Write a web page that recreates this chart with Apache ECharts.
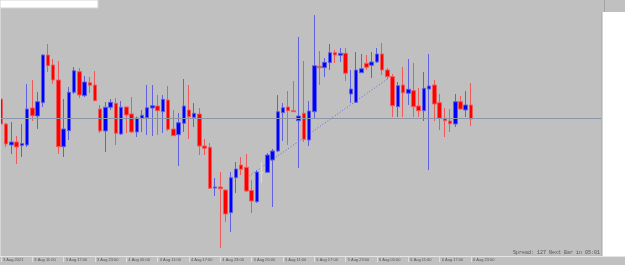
<!DOCTYPE html>
<html>
<head>
<meta charset="utf-8">
<title>3-6 Aug 2021 H1</title>
<script src="https://cdn.jsdelivr.net/npm/echarts@6/dist/echarts.min.js"></script>
<style>
  html, body { margin: 0; padding: 0; background: #c0c0c0; }
  #chart { width: 625px; height: 265px; }
</style>
</head>
<body>
<div id="chart"></div>
<script>
  // hourly bars, 3 Aug 05:00 .. 6 Aug 23:00
  const tickLabels = ['3 Aug 2021', '3 Aug 11:00', '3 Aug 17:00', '3 Aug 23:00',
    '4 Aug 05:00', '4 Aug 11:00', '4 Aug 17:00', '4 Aug 23:00',
    '5 Aug 05:00', '5 Aug 11:00', '5 Aug 17:00', '5 Aug 23:00',
    '6 Aug 05:00', '6 Aug 11:00', '6 Aug 17:00', '6 Aug 23:00']

  const open = [157, 132, 111, 114, 110.5, 111, 148, 140, 153.3, 201,
    191, 176, 109.3, 125.3, 163.7, 184.3, 160.3, 173.3, 171, 147,
    125, 148.7, 152.7, 122, 149, 142, 124, 137.7, 138.3, 148,
    150, 144.3, 156, 127, 121.3, 132.7, 146, 138.7, 142, 110,
    108.7, 68, 69, 66, 43.3, 78.3, 91, 88.7, 65.5, 54.3,
    83.3, 83.7, 96, 105, 143.3, 149, 145.3, 135.3, 142.7, 116,
    144.3, 189.7, 188.3, 193.3, 203.3, 200.7, 202.7, 162, 153.7, 183.3,
    192.7, 190.7, 194, 202, 186, 179.3, 149.3, 171, 162.7, 165.3,
    150, 145.3, 167, 171, 153.3, 137.7, 135, 132, 154.3, 146, 151]

  const close = [132, 112, 114, 109, 112.5, 147, 140.3, 154.3, 201, 190.3,
    176, 109.3, 127, 163.7, 185.3, 161, 174, 170.7, 155.3, 125,
    148.7, 153.7, 122.7, 148.7, 141, 124, 138, 140.7, 148.3, 150.3,
    145.3, 156.7, 126.7, 120.3, 133.3, 150, 139.3, 142.7, 110, 107.7,
    67.7, 69, 67.3, 42, 78.3, 87, 86.7, 65, 55, 84,
    83.3, 101, 105, 144.3, 148.3, 145.3, 144.3, 140, 116.7, 145,
    190.3, 188.3, 193.7, 203.3, 201, 202.7, 182.7, 167, 186, 187.3,
    188.7, 194, 202, 186, 179.3, 150.3, 170.3, 163.3, 166.7, 149.3,
    145.3, 167.7, 170, 152, 137.7, 135.3, 132.3, 154.3, 147, 151, 137]

  const low = [129, 109, 102, 92, 99, 109, 135, 127, 149, 184,
    172, 102, 99, 116, 162, 158, 159, 163, 155, 123,
    104, 146, 111, 121, 123, 123, 119, 124, 121, 120,
    121, 123, 125, 120, 90, 124, 117, 129, 101, 101,
    67.5, 60, 8, 34, 24, 63, 81, 64, 43, 53,
    73, 83, 49, 104, 115, 111, 144, 88, 114, 110,
    138, 171, 179, 186, 193, 194, 175, 153, 153, 183,
    186, 178, 193, 181, 177, 139, 139, 139, 151, 139,
    139, 135, 86, 135, 126, 119, 124, 129, 146, 139, 130]

  const high = [160, 133, 134, 120, 132, 172, 176, 164, 202, 212,
    197, 195, 157, 169, 189, 188, 180, 179, 185, 151,
    154, 157, 158, 155, 149.3, 159, 139.3, 146, 171, 171,
    161, 161, 170, 146, 143, 177, 171, 153, 148, 117,
    113, 78, 84, 66, 84, 94, 99, 102, 76, 86,
    94, 103, 107, 161, 153, 165, 175, 219, 195, 155,
    241, 205, 198, 212, 206, 208, 208, 186, 204, 202,
    201, 204, 208, 213, 188, 182, 174, 189, 197, 193,
    168, 184, 202, 176, 162, 148, 147, 162, 160, 165, 173]

  const levelLine = 137.7
  const trendLine = [[47, 78], [74, 177]]
  const slotCount = 116 // bars plus empty chart shift on the right

  let categories = []
  for (let i = 0; i < slotCount; i++) {
    categories.push(i % 6 === 0 && tickLabels[i / 6] ? tickLabels[i / 6] : '')
  }

  let candles = open.map((o, i) => {
    let item = { value: [o, close[i], low[i], high[i]] }
    if (i === 50) {
      item.itemStyle = { color: '#dcdcc8', color0: '#dcdcc8', borderColor: '#dcdcc8', borderColor0: '#dcdcc8' }
    }
    return item
  })

  let chart = echarts.init(document.getElementById('chart'), null, { renderer: 'canvas' })
  chart.setOption({
    animation: false,
    backgroundColor: '#c0c0c0',
    grid: { left: 1, right: 23.5, top: 0, bottom: 9 },
    xAxis: {
      type: 'category',
      data: categories,
      boundaryGap: false,
      axisLine: { show: false },
      axisTick: {
        show: true,
        length: 6,
        interval: (i) => categories[i] !== '',
        lineStyle: { color: '#dedede', width: 1 }
      },
      axisLabel: {
        interval: 0,
        margin: 2,
        align: 'left',
        verticalAlign: 'top',
        padding: [0, 0, 0, 2],
        fontSize: 4,
        fontFamily: 'Liberation Sans',
        color: '#555'
      },
      splitLine: { show: false }
    },
    yAxis: {
      type: 'value',
      min: 0,
      max: 256,
      show: false,
      splitLine: { show: false }
    },
    series: [
      {
        type: 'line',
        data: trendLine,
        symbol: 'none',
        silent: true,
        z: 1,
        lineStyle: { color: '#6a6ad6', width: 1, type: [1, 2] }
      },
      {
        type: 'candlestick',
        data: candles,
        barWidth: 4,
        z: 2,
        itemStyle: {
          color: '#0000ff',
          color0: '#ff0000',
          borderColor: '#6060e0',
          borderColor0: '#f05a5a',
          borderColorDoji: '#6060e0',
          borderWidth: 1
        },
        markLine: {
          silent: true,
          symbol: 'none',
          label: { show: false },
          lineStyle: { color: '#8a96a8', width: 1, type: 'solid' },
          data: [{ yAxis: levelLine }]
        }
      }
    ],
    graphic: [
      { type: 'rect', shape: { x: 0, y: 0, width: 98, height: 8 }, style: { fill: '#ffffff', stroke: '#d4d4d4', lineWidth: 1 }, z: 10 },
      { type: 'rect', shape: { x: 602, y: 12, width: 23, height: 244.5 }, style: { fill: '#ffffff' }, z: 10 },
      { type: 'line', shape: { x1: 602, y1: 12, x2: 602, y2: 256 }, style: { stroke: '#a8a8a8', lineWidth: 1 }, z: 11 },
      { type: 'line', shape: { x1: 604.5, y1: 0, x2: 604.5, y2: 12 }, style: { stroke: '#a4a4a4', lineWidth: 1 }, z: 11 },
      { type: 'line', shape: { x1: 0.5, y1: 8, x2: 0.5, y2: 256 }, style: { stroke: '#d6d6d6', lineWidth: 1 }, z: 11 },
      { type: 'line', shape: { x1: 0, y1: 256.5, x2: 625, y2: 256.5 }, style: { stroke: '#e6e6e6', lineWidth: 1 }, z: 11 },
      {
        type: 'text',
        right: 25,
        top: 250,
        z: 12,
        style: {
          text: 'Spread: 127 Next Bar in 05:01',
          fontSize: 5,
          fontFamily: 'Liberation Mono',
          fill: '#555'
        }
      }
    ]
  })
</script>
</body>
</html>
